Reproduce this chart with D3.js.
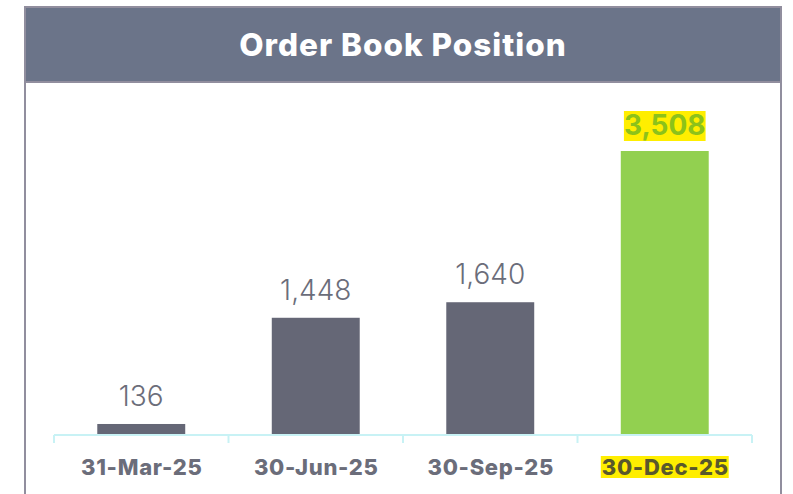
<!DOCTYPE html>
<html><head><meta charset="utf-8">
<script src="https://cdn.jsdelivr.net/npm/d3@7"></script>
<style>
html,body{margin:0;padding:0;background:#fff;}
svg{display:block;}
</style></head>
<body>
<svg id="chart" width="793" height="494"></svg>
<script>
const title = "Order Book Position";
const categories = ["31-Mar-25", "30-Jun-25", "30-Sep-25", "30-Dec-25"];
const values = [136, 1448, 1640, 3508];
const highlightCategory = "30-Dec-25";

const svg = d3.select("#chart");
const W = 793, H = 494;
const fontFam = "Inter, 'Open Sans', 'DejaVu Sans', sans-serif";

// frame
svg.append("rect").attr("x", 25).attr("y", 7).attr("width", 756).attr("height", 75)
  .attr("fill", "#6b7489");
svg.append("path")
  .attr("d", `M25,${H} L25,7 L781,7 L781,${H}`)
  .attr("fill", "none").attr("stroke", "#918e9e").attr("stroke-width", 2);
svg.append("line").attr("x1", 25).attr("x2", 781).attr("y1", 82).attr("y2", 82)
  .attr("stroke", "#918e9e").attr("stroke-width", 2);

svg.append("text").attr("x", 403).attr("y", 56).attr("text-anchor", "middle")
  .attr("fill", "#fff").attr("font-family", fontFam).attr("font-weight", 800)
  .attr("font-size", 31.5).attr("letter-spacing", 1.0).text(title);

const x = d3.scaleBand().domain(categories).range([54, 752])
  .paddingInner(0.496).paddingOuter(0.248);
const y = d3.scaleLinear().domain([0, 3508]).range([435, 151]);

// bars
svg.selectAll("rect.bar").data(categories).join("rect").attr("class", "bar")
  .attr("x", d => x(d)).attr("width", x.bandwidth())
  .attr("y", (d, i) => y(values[i])).attr("height", (d, i) => y(0) - y(values[i]))
  .attr("fill", d => d === highlightCategory ? "#92d050" : "#656776");

// axis
const axis = d3.axisBottom(x).tickSize(0).tickFormat("");
const ax = svg.append("g").attr("transform", "translate(0,435)").call(axis);
ax.select(".domain").attr("stroke", "#c8f2f5").attr("stroke-width", 2).attr("d", "M54,0H752");
// boundary ticks
const step = x.step();
const bounds = d3.range(categories.length + 1).map(i => 54 + i * step);
ax.selectAll("line.bt").data(bounds).join("line").attr("class", "bt")
  .attr("x1", d => d).attr("x2", d => d).attr("y1", 0).attr("y2", 8)
  .attr("stroke", "#c8f2f5").attr("stroke-width", 2);

// value labels
categories.forEach((c, i) => {
  const cx = x(c) + x.bandwidth() / 2;
  const hl = c === highlightCategory;
  const g = svg.append("g");
  const t = g.append("text").attr("x", cx).attr("y", y(values[i]) - (hl ? 16 : 18))
    .attr("text-anchor", "middle").attr("font-family", fontFam)
    .attr("font-weight", hl ? 700 : 300).attr("font-size", 28)
    .attr("fill", hl ? "#8cc21a" : "#6b6d7a")
    .text(d3.format(",")(values[i]));
  if (hl) {
    const b = t.node().getBBox();
    g.insert("rect", "text").attr("x", b.x).attr("y", b.y + 3).attr("width", b.width).attr("height", b.height - 4)
      .attr("fill", "#ffee00");
  }
});

// category labels
categories.forEach((c) => {
  const cx = x(c) + x.bandwidth() / 2;
  const hl = c === highlightCategory;
  const g = svg.append("g");
  const t = g.append("text").attr("x", cx + 0.5).attr("y", 475).attr("text-anchor", "middle")
    .attr("font-family", fontFam).attr("font-weight", 800).attr("font-size", 22)
    .attr("letter-spacing", 0.7)
    .attr("fill", hl ? "#59582c" : "#6b6d7a").text(c);
  if (hl) {
    const b = t.node().getBBox();
    g.insert("rect", "text").attr("x", b.x - 1).attr("y", b.y + 2).attr("width", b.width + 1).attr("height", b.height - 4)
      .attr("fill", "#ffee00");
  }
});
</script>
</body></html>
